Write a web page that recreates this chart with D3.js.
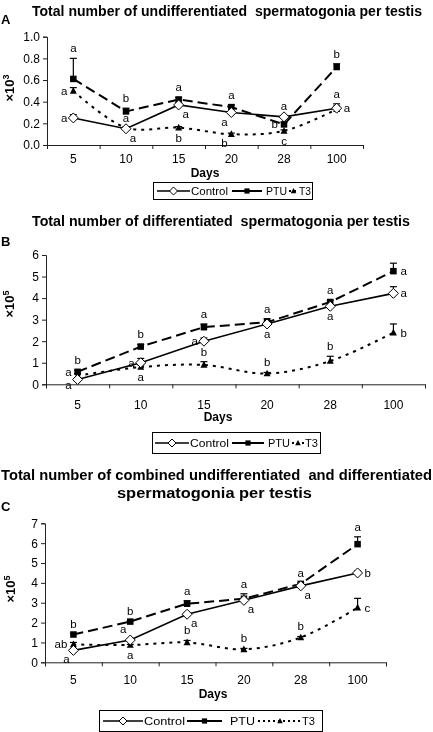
<!DOCTYPE html>
<html><head><meta charset="utf-8">
<script src="https://cdn.jsdelivr.net/npm/d3@7/dist/d3.min.js"></script>
<style>
body{margin:0;background:#fff}
svg{will-change:transform}
svg text{font-family:"Liberation Sans",Arial,sans-serif;fill:#000}
</style>
</head><body>
<svg id="chart" width="433" height="732"></svg>
<script>
// ---------- DATA ----------
const days = ["5","10","15","20","28","100"];
const seriesNames = ["Control","PTU","T3"];

// Panel A: undifferentiated (x10^3)
const aControl    = [0.25,0.15,0.37,0.30,0.26,0.34];
const aPTU        = [0.61,0.31,0.42,0.35,0.19,0.72];
const aT3         = [0.50,0.16,0.16,0.10,0.13,0.33];
const aControlErr = [0.28,0.16,0.39,0.31,0.27,0.38];
const aPTUErr     = [0.80,0.34,0.44,0.37,0.21,0.75];
const aT3Err      = [0.53,0.17,0.17,0.11,0.14,0.36];
const aTicks = [0,0.2,0.4,0.6,0.8,1.0];
const aLetters = [
  [0,"PTU","a","above"],[0,"T3","a","left"],[0,"Control","a","left"],
  [1,"PTU","b","above"],[1,"Control","a","above"],[1,"Control","a","belowright"],
  [2,"PTU","a","above"],[2,"Control","a","belowright"],[2,"T3","b","below"],
  [3,"PTU","a","above"],[3,"Control","a","belowleft"],[3,"T3","b","belowleft"],
  [4,"Control","a","above"],[4,"PTU","b","left"],[4,"T3","c","below"],
  [5,"PTU","b","above"],[5,"Control","a","above"],[5,"Control","a","right"]
];

// Panel B: differentiated (x10^5)
const bControl    = [0.22,1.00,2.00,2.80,3.62,4.22];
const bPTU        = [0.58,1.75,2.65,2.88,3.82,5.25];
const bT3         = [0.40,0.80,0.90,0.50,1.08,2.40];
const bControlErr = [0.30,1.20,2.15,2.90,3.70,4.53];
const bPTUErr     = [0.65,1.85,2.80,3.05,3.90,5.62];
const bT3Err      = [0.50,0.90,1.05,0.55,1.30,2.80];
const bTicks = [0,1,2,3,4,5,6];
const bLetters = [
  [0,"PTU","b","above"],[0,"PTU","a","left"],[0,"Control","a","leftlow"],
  [1,"PTU","b","above"],[1,"Control","a","left"],[1,"T3","a","below"],
  [2,"PTU","a","above"],[2,"Control","a","left"],[2,"T3","b","above"],
  [3,"PTU","a","above"],[3,"Control","a","below"],[3,"T3","b","above"],
  [4,"PTU","a","above"],[4,"Control","a","below"],[4,"T3","b","above"],
  [5,"PTU","a","right"],[5,"Control","a","right"],[5,"T3","b","right"]
];

// Panel C: combined (x10^5)
const cControl    = [0.60,1.12,2.42,3.12,3.85,4.50];
const cPTU        = [1.40,2.05,2.95,3.20,3.95,5.95];
const cT3         = [0.90,0.87,1.00,0.65,1.25,2.75];
const cControlErr = [0.65,1.20,2.50,3.20,3.90,4.60];
const cPTUErr     = [1.45,2.10,3.10,3.45,4.00,6.32];
const cT3Err      = [1.00,0.90,1.10,0.70,1.30,3.22];
const cTicks = [0,1,2,3,4,5,6,7];
const cLetters = [
  [0,"PTU","b","above"],[0,"T3","ab","left"],[0,"Control","a","belowleft"],
  [1,"PTU","b","above"],[1,"Control","a","aboveleft"],[1,"T3","a","below"],
  [2,"PTU","a","above"],[2,"Control","a","belowright"],[2,"T3","b","above"],
  [3,"PTU","a","above"],[3,"Control","a","belowright"],[3,"T3","b","above"],
  [4,"PTU","a","above"],[4,"Control","a","belowright"],[4,"T3","b","above"],
  [5,"PTU","a","above"],[5,"Control","b","right"],[5,"T3","c","right"]
];

const titleA = "Total number of undifferentiated  spermatogonia per testis";
const titleB = "Total number of differentiated  spermatogonia per testis";
const titleC1 = "Total number of combined undifferentiated  and differentiated";
const titleC2 = "spermatogonia per testis";

// ---------- DRAWING ----------
const svg = d3.select("#chart");

const styles = {
  Control:{dash:null, width:1.6, curve:d3.curveLinear},
  PTU:{dash:"10,5", width:2, curve:d3.curveLinear},
  T3:{dash:"3,5", width:2, curve:d3.curveCatmullRom.alpha(0.5)}
};

function fitText(sel, target){
  const w = sel.node().getComputedTextLength();
  if (w > 0) sel.attr("textLength", target).attr("lengthAdjust","spacingAndGlyphs");
}

function drawMarker(g, name, x, y, legend){
  const k = legend ? 0.8 : 1;
  if (name === "Control"){
    const r = 5*k;
    g.append("path").attr("d", `M${x},${y-r}L${x+r},${y}L${x},${y+r}L${x-r},${y}Z`)
      .attr("fill","#fff").attr("stroke","#000").attr("stroke-width",1);
  } else if (name === "PTU"){
    const s = 6.5*k;
    g.append("rect").attr("x",x-s/2).attr("y",y-s/2).attr("width",s).attr("height",s).attr("fill","#000");
  } else {
    const s = 7*k;
    g.append("path").attr("d", `M${x},${y-s*0.55}L${x+s/2},${y+s*0.4}L${x-s/2},${y+s*0.4}Z`).attr("fill","#000");
  }
}

function panel(cfg){
  const g = svg.append("g");
  const x = d3.scaleBand().domain(days).range(cfg.xr).paddingInner(0).paddingOuter(0);
  const xb = d3.scaleLinear().domain([0, days.length]).range(cfg.xr);
  const y = d3.scaleLinear().domain([0, d3.max(cfg.ticks)]).range(cfg.yr);
  const cx = d => x(d) + x.bandwidth()/2;

  // axes
  const yAxis = g.append("g").attr("transform",`translate(${cfg.xr[0]},0)`)
    .call(d3.axisLeft(y).tickValues(cfg.ticks).tickFormat(cfg.fmt).tickSize(4).tickPadding(3));
  yAxis.selectAll("text").style("font-size", cfg.tickFs+"px").attr("fill","#000");
  g.append("g").attr("transform",`translate(0,${cfg.yr[0]})`)
    .call(d3.axisBottom(xb).tickValues(d3.range(days.length+1)).tickFormat("").tickSize(4));
  const xLab = g.append("g").attr("transform",`translate(0,${cfg.yr[0]})`)
    .call(d3.axisBottom(x).tickSize(0).tickPadding(cfg.xPad));
  xLab.select(".domain").remove();
  xLab.selectAll("text").style("font-size", cfg.tickFs+"px").attr("fill","#000");
  g.selectAll(".domain, .tick line").attr("stroke","#222");

  // lines
  const series = cfg.series;
  seriesNames.forEach(name => {
    const st = styles[name];
    const line = d3.line().x((v,i)=>cx(days[i])).y(v=>y(v)).curve(st.curve);
    g.append("path").datum(series[name].v).attr("d", line)
      .attr("fill","none").attr("stroke","#000").attr("stroke-width",st.width)
      .attr("stroke-dasharray", st.dash);
  });
  // error bars
  seriesNames.forEach(name => {
    series[name].e.forEach((e,i) => {
      const v = series[name].v[i];
      if (e - v <= 0.001) return;
      const xx = cx(days[i]);
      g.append("line").attr("x1",xx).attr("x2",xx).attr("y1",y(v)).attr("y2",y(e))
        .attr("stroke","#000").attr("stroke-width",1.2);
      g.append("line").attr("x1",xx-3.5).attr("x2",xx+3.5).attr("y1",y(e)).attr("y2",y(e))
        .attr("stroke","#000").attr("stroke-width",1.2);
    });
  });
  // markers
  ["T3","PTU","Control"].forEach(name => {
    series[name].v.forEach((v,i) => drawMarker(g, name, cx(days[i]), y(v), false));
  });
  // significance letters
  const off = {
    above:[0,-10,"middle"], below:[0,10,"middle"], left:[-6,0,"end"], right:[7,0,"start"],
    leftlow:[-6,5,"end"],
    belowright:[7,9,"middle"], belowleft:[-7,9,"middle"], aboveleft:[-7,-9,"middle"]
  };
  cfg.letters.forEach(([i,name,txt,pos]) => {
    const s = series[name];
    const top = pos.startsWith("above") ? Math.max(s.v[i], s.e[i]) : s.v[i];
    const o = off[pos];
    g.append("text").attr("x", cx(days[i]) + o[0]).attr("y", y(top) + o[1] + 4)
      .attr("text-anchor", o[2]).attr("fill","#000").style("font-size","11.5px").text(txt);
  });

  // y label
  const yl = g.append("text").attr("transform",`translate(${cfg.ylab[0]},${cfg.ylab[1]}) rotate(-90)`)
    .attr("text-anchor","middle").style("font-size","13px").style("font-weight","bold");
  yl.append("tspan").text("×10");
  yl.append("tspan").attr("dy",-5).style("font-size","9px").text(cfg.exp);

  // Days
  g.append("text").attr("x",cfg.days[0]).attr("y",cfg.days[1]).attr("text-anchor","middle")
    .style("font-size","12px").style("font-weight","bold").text("Days");

  // titles
  cfg.titles.forEach(t => {
    const tt = g.append("text").attr("x",t[1]).attr("y",t[3]).style("font-size","14px")
      .style("font-weight","bold").style("white-space","pre").text(t[0]);
    fitText(tt, t[2]-t[1]);
  });
  g.append("text").attr("x",1).attr("y",cfg.letterY).style("font-size","13px")
    .style("font-weight","bold").text(cfg.letter);

  // legend
  const L = cfg.legend;
  g.append("rect").attr("x",L.box[0]+0.5).attr("y",L.box[2]+0.5).attr("width",L.box[1]-L.box[0])
    .attr("height",L.box[3]-L.box[2]).attr("fill","#fff").attr("stroke","#000").attr("stroke-width",1);
  const ly = (L.box[2]+L.box[3])/2 + 0.5;
  seriesNames.forEach((name,k) => {
    const it = L.items[k];
    g.append("line").attr("x1",it[0]).attr("x2",it[1]).attr("y1",ly).attr("y2",ly)
      .attr("stroke","#000").attr("stroke-width",name==="Control"?1.5:2)
      .attr("stroke-dasharray", name==="T3" ? "2,3" : null);
    drawMarker(g, name, (it[0]+it[1])/2, ly, true);
    const tx = g.append("text").attr("x",it[2]).attr("y",ly+4).style("font-size","11.5px").text(name);
    fitText(tx, it[3]-it[2]);
  });
}

panel({
  xr:[47,363], yr:[145,36.7], ticks:aTicks, fmt:d3.format(".1f"), tickFs:12, xPad:9,
  series:{Control:{v:aControl,e:aControlErr}, PTU:{v:aPTU,e:aPTUErr}, T3:{v:aT3,e:aT3Err}},
  letters:aLetters, exp:"3", ylab:[14,88], days:[205,177],
  titles:[[titleA,32,422,16]], letter:"A", letterY:24,
  legend:{box:[153,312,182,199], items:[[157,190,191,228],[232,262,266,287],[289,298,299,311]]}
});
panel({
  xr:[46,425], yr:[384.3,255], ticks:bTicks, fmt:d3.format("d"), tickFs:12, xPad:16,
  series:{Control:{v:bControl,e:bControlErr}, PTU:{v:bPTU,e:bPTUErr}, T3:{v:bT3,e:bT3Err}},
  letters:bLetters, exp:"5", ylab:[14,304], days:[218,421],
  titles:[[titleB,32,410,226]], letter:"B", letterY:246,
  legend:{box:[152,320,432,453], items:[[155,189,190,229],[232,264,268,290],[292,304,305,318]]}
});
panel({
  xr:[45,386], yr:[662.3,523.3], ticks:cTicks, fmt:d3.format("d"), tickFs:12, xPad:13,
  series:{Control:{v:cControl,e:cControlErr}, PTU:{v:cPTU,e:cPTUErr}, T3:{v:cT3,e:cT3Err}},
  letters:cLetters, exp:"5", ylab:[15,589], days:[213,698],
  titles:[[titleC1,1,432,480],[titleC2,117,312,498]], letter:"C", letterY:511,
  legend:{box:[99,322,710,731], items:[[103,143,144,185],[187,222,230,255],[258,302,302,315]]}
});
</script>
</body></html>
